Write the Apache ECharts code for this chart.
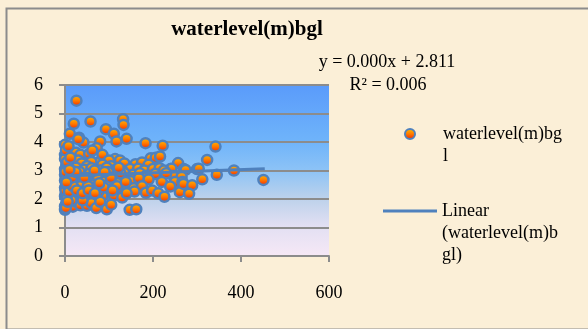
<!DOCTYPE html>
<html>
<head>
<meta charset="utf-8">
<script src="https://cdn.jsdelivr.net/npm/echarts@6/dist/echarts.min.js"></script>
<style>
html,body{margin:0;padding:0;background:#fbefd7;}
#c{width:588px;height:329px;}
</style>
</head>
<body>
<div id="c"></div>
<script>
var titleText = 'waterlevel(m)bgl';
var seriesName = 'waterlevel(m)bgl';
var trendName = 'Linear (waterlevel(m)bgl)';
var equationLines = ['y = 0.000x + 2.811', 'R² = 0.006'];
var xTicks = [0, 200, 400, 600];
var yTicks = [0, 1, 2, 3, 4, 5, 6];

var xVals = [26,20,58,132,133,93,111,11,140,183,222,80,117,42,0,72,32,30,
  45,114,195,206,216,11,72,257,323,342,8,94,147,0,5,15,25,35,55,62,85,100,125,60,20,30,38,50,0,3,85,105,135,160,175,190,
  148,166,117,11,45,80,240,270,300,274,304,384,242,0,25,60,95,130,180,200,215,225,
  0,13,30,55,70,100,115,135,155,170,185,205,246,345,265,230,
  0,15,28,42,56,75,90,110,130,150,168,190,220,250,267,312,451,5,20,35,65,100,120,
  0,11,22,35,50,65,80,95,110,125,142,156,175,184,198,212,239,261,269,289,282,226,
  0,2,8,20,30,45,58,66,85,111,130,158,140,
  0,0,3,10,18,25,35,50,60,71,80,95,105,147,162,40,15,
  2,4,1,3,6,2,5,1,4,8,12,9,14,18,22,27,33,40,48,52,67,76,88,98,104,118,126,6,16,24,44,54,68,78,90,108,122,138,3,10];
var yVals = [5.45,4.64,4.72,4.8,4.6,4.45,4.29,4.29,4.11,3.96,3.87,4.02,4.02,3.98,3.9,3.78,4.15,4.1,
  3.47,3.4,3.43,3.45,3.49,3.31,3.26,3.26,3.37,3.84,3.29,3.31,3.12,3.55,3.6,3.5,3.62,3.55,3.58,3.7,3.55,3.35,3.35,3.3,3.2,3.35,3.25,3.15,3.4,3.2,3.2,3.15,3.25,3.22,3.28,3.2,
  3.05,3.06,3.05,2.96,3.03,3.0,3.05,3.05,3.05,3.02,3.06,3.0,3.06,3.05,3.1,3.08,3.1,3.0,3.0,3.05,3.08,3.0,
  2.85,2.82,2.88,2.88,2.86,2.87,2.88,2.9,2.85,2.9,2.82,2.88,2.81,2.85,2.78,2.9,
  2.65,2.65,2.7,2.65,2.6,2.7,2.62,2.65,2.7,2.62,2.73,2.68,2.6,2.6,2.6,2.69,2.67,2.55,2.5,2.55,2.5,2.52,2.55,
  2.4,2.35,2.4,2.45,2.35,2.4,2.5,2.3,2.38,2.32,2.4,2.38,2.45,2.22,2.3,2.2,2.44,2.24,2.53,2.48,2.18,2.08,
  2.1,2.2,2.05,2.15,2.05,2.1,2.18,1.99,2.1,2.12,2.05,2.26,2.2,
  1.62,1.75,1.85,1.8,1.73,1.9,1.78,1.76,1.85,1.68,1.9,1.64,1.8,1.62,1.64,1.95,1.95,
  1.68,2.0,2.3,2.75,3.15,3.7,3.3,2.95,2.5,3.85,3.45,2.25,3.0,2.45,2.8,2.3,2.95,2.2,2.75,2.45,3.0,2.25,2.4,2.95,2.75,2.45,2.9,1.9,2.75,2.95,2.75,2.3,2.2,2.55,2.95,2.3,3.1,2.6,2.58,3.02];
var trendX = [0, 454];
var trendY = [2.811, 3.06];

var scatterData = xVals.map(function (x, i) { return [x, yVals[i]]; });
var trendData = trendX.map(function (x, i) { return [x, trendY[i]]; });

var font = '"Liberation Serif", "Times New Roman", serif';
var chart = echarts.init(document.getElementById('c'), null, {renderer: 'canvas'});
chart.setOption({
  backgroundColor: '#fbefd7',
  animation: false,
  title: {
    text: titleText, left: 242, top: 14, textAlign: 'center',
    textStyle: {fontFamily: font, fontSize: 21, fontWeight: 'bold', color: '#000'}
  },
  graphic: [
    {type: 'rect', left: 4, top: 6, shape: {width: 620, height: 321}, style: {fill: 'none', stroke: '#8c8c8c', lineWidth: 2}, z: -1},
    {type: 'text', x: 387, y: 62, style: {text: equationLines[0], font: '18px ' + font, fill: '#000', textAlign: 'center', textVerticalAlign: 'middle'}},
    {type: 'text', x: 388, y: 85, style: {text: equationLines[1], font: '18px ' + font, fill: '#000', textAlign: 'center', textVerticalAlign: 'middle'}}
  ],
  legend: [
    {data: [{name: seriesName, icon: 'circle'}], left: 404, top: 101, padding: 0, itemWidth: 10, itemHeight: 10, itemGap: 0,
     formatter: function () { return ' \nwaterlevel(m)bg\nl'; },
     textStyle: {fontFamily: font, fontSize: 18, lineHeight: 22, color: '#000', padding: [0, 0, 0, 23]}},
    {data: [{name: trendName, icon: 'rect'}], left: 383, top: 156, padding: 0, itemWidth: 54, itemHeight: 3,
     formatter: function () { return ' \n \nLinear\n(waterlevel(m)b\ngl)'; },
     textStyle: {fontFamily: font, fontSize: 18, lineHeight: 22, color: '#000'}}
  ],
  grid: {
    left: 65, right: 259, top: 85, bottom: 73, show: true, borderWidth: 0,
    backgroundColor: new echarts.graphic.LinearGradient(0, 0, 0, 1, [
      {offset: 0, color: '#5a9bfb'},
      {offset: 0.33, color: '#6fb4fa'},
      {offset: 0.5, color: '#8dc3f6'},
      {offset: 0.67, color: '#bed2eb'},
      {offset: 0.83, color: '#e3e0f3'},
      {offset: 1, color: '#f6e8f6'}
    ])
  },
  xAxis: {
    type: 'value', min: 0, max: 600, interval: 200,
    axisLine: {show: true, lineStyle: {color: '#8c8c8c', width: 2}},
    axisTick: {show: true, length: 6, lineStyle: {color: '#8c8c8c', width: 2}},
    splitLine: {show: false},
    axisLabel: {margin: 28, fontFamily: font, fontSize: 18, color: '#000'}
  },
  yAxis: {
    type: 'value', min: 0, max: 6, interval: 1,
    axisLine: {show: true, lineStyle: {color: '#8c8c8c', width: 2}},
    axisTick: {show: true, length: 6, lineStyle: {color: '#8c8c8c', width: 2}},
    splitLine: {show: true, lineStyle: {color: '#8c8c8c', width: 2}},
    axisLabel: {margin: 22, fontFamily: font, fontSize: 18, color: '#000'}
  },
  series: [
    {
      name: seriesName, type: 'scatter', data: scatterData, symbol: 'circle', symbolSize: 10,
      itemStyle: {
        color: new echarts.graphic.LinearGradient(0, 0, 0, 1, [
          {offset: 0, color: '#ffc400'}, {offset: 0.5, color: '#ff7a00'}, {offset: 1, color: '#f02000'}
        ]),
        borderColor: '#4f81bd', borderWidth: 2.5, opacity: 1
      },
      z: 2
    },
    {
      name: trendName, type: 'line', data: trendData, showSymbol: false, symbol: 'none',
      lineStyle: {color: '#4f81bd', width: 3}, itemStyle: {color: '#4f81bd'}, z: 3
    }
  ]
});
</script>
</body>
</html>
